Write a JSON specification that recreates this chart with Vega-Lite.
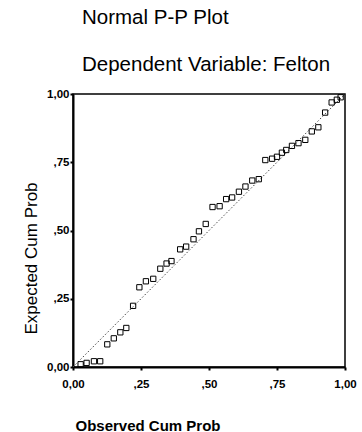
{
  "$schema": "https://vega.github.io/schema/vega-lite/v6.json",
  "autosize": {"type": "none"},
  "width": 272,
  "height": 273,
  "padding": {"left": 73, "top": 94, "right": 17, "bottom": 65},
  "background": "white",
  "title": {
    "text": "Normal P-P Plot",
    "subtitle": "Dependent Variable: Felton",
    "anchor": "start",
    "frame": "group",
    "dx": 9,
    "offset": 13,
    "font": "Liberation Sans",
    "fontSize": 20.5,
    "fontWeight": "normal",
    "color": "black",
    "subtitleFont": "Liberation Sans",
    "subtitleFontSize": 20.5,
    "subtitleColor": "black",
    "subtitlePadding": 26
  },
  "config": {
    "view": {"stroke": "black", "strokeWidth": 1.5},
    "axis": {
      "grid": false,
      "domainColor": "black",
      "domainWidth": 2,
      "tickColor": "black",
      "tickSize": 3,
      "tickWidth": 2,
      "labelFont": "Liberation Sans",
      "labelFontSize": 11.5,
      "labelFontWeight": "bold",
      "labelColor": "black",
      "titleFont": "Liberation Sans",
      "titleColor": "black"
    }
  },
  "layer": [
    {
      "data": {"values": [{"p": 0, "q": 0}, {"p": 1, "q": 1}]},
      "mark": {"type": "line", "color": "#444444", "strokeWidth": 1, "strokeDash": [1.5, 2]},
      "encoding": {
        "x": {"field": "p", "type": "quantitative"},
        "y": {"field": "q", "type": "quantitative"}
      }
    },
    {
      "data": {
        "values": [
          {"observed": 0.028, "expected": 0.01},
          {"observed": 0.05, "expected": 0.015},
          {"observed": 0.077, "expected": 0.021},
          {"observed": 0.1, "expected": 0.021},
          {"observed": 0.126, "expected": 0.083},
          {"observed": 0.15, "expected": 0.105},
          {"observed": 0.174, "expected": 0.127},
          {"observed": 0.196, "expected": 0.143},
          {"observed": 0.221, "expected": 0.224},
          {"observed": 0.244, "expected": 0.292},
          {"observed": 0.268, "expected": 0.314},
          {"observed": 0.295, "expected": 0.323},
          {"observed": 0.321, "expected": 0.36},
          {"observed": 0.344, "expected": 0.379},
          {"observed": 0.362, "expected": 0.388},
          {"observed": 0.394, "expected": 0.431},
          {"observed": 0.416, "expected": 0.441},
          {"observed": 0.443, "expected": 0.468},
          {"observed": 0.463, "expected": 0.497},
          {"observed": 0.488, "expected": 0.524},
          {"observed": 0.513, "expected": 0.586},
          {"observed": 0.539, "expected": 0.589},
          {"observed": 0.563, "expected": 0.615},
          {"observed": 0.585, "expected": 0.621},
          {"observed": 0.61, "expected": 0.642},
          {"observed": 0.634, "expected": 0.661},
          {"observed": 0.659, "expected": 0.683},
          {"observed": 0.683, "expected": 0.688},
          {"observed": 0.707, "expected": 0.758},
          {"observed": 0.732, "expected": 0.763},
          {"observed": 0.75, "expected": 0.77},
          {"observed": 0.768, "expected": 0.785},
          {"observed": 0.784, "expected": 0.795},
          {"observed": 0.805, "expected": 0.81},
          {"observed": 0.829, "expected": 0.82},
          {"observed": 0.854, "expected": 0.832},
          {"observed": 0.878, "expected": 0.863},
          {"observed": 0.902, "expected": 0.878},
          {"observed": 0.927, "expected": 0.932},
          {"observed": 0.951, "expected": 0.969},
          {"observed": 0.97, "expected": 0.979},
          {"observed": 0.984, "expected": 0.988}
        ]
      },
      "mark": {"type": "point", "shape": "square", "filled": false, "size": 28, "stroke": "black", "strokeWidth": 1, "opacity": 1},
      "encoding": {
        "x": {
          "field": "observed",
          "type": "quantitative",
          "scale": {"domain": [0, 1], "nice": false, "zero": false},
          "axis": {
            "values": [0, 0.25, 0.5, 0.75, 1],
            "labelExpr": "datum.value == 0 ? '0,00' : datum.value == 1 ? '1,00' : replace(format(datum.value, '.2f'), '0.', ',')",
            "labelPadding": 8,
            "labelFlush": false,
            "title": "Observed Cum Prob",
            "titleFontSize": 15,
            "titleFontWeight": "bold",
            "titleAnchor": "start",
            "titleAlign": "left",
            "titleBaseline": "alphabetic",
            "titleX": 2,
            "titleY": 63
          }
        },
        "y": {
          "field": "expected",
          "type": "quantitative",
          "scale": {"domain": [0, 1], "nice": false, "zero": false},
          "axis": {
            "values": [0, 0.25, 0.5, 0.75, 1],
            "labelExpr": "datum.value == 0 ? '0,00' : datum.value == 1 ? '1,00' : replace(format(datum.value, '.2f'), '0.', ',')",
            "labelPadding": 1,
            "labelFlush": false,
            "title": "Expected Cum Prob",
            "titleFontSize": 17,
            "titleFontWeight": "normal",
            "titleAngle": -90,
            "titleAlign": "center",
            "titleBaseline": "alphabetic",
            "titleX": -37,
            "titleY": 164
          }
        }
      }
    }
  ]
}
